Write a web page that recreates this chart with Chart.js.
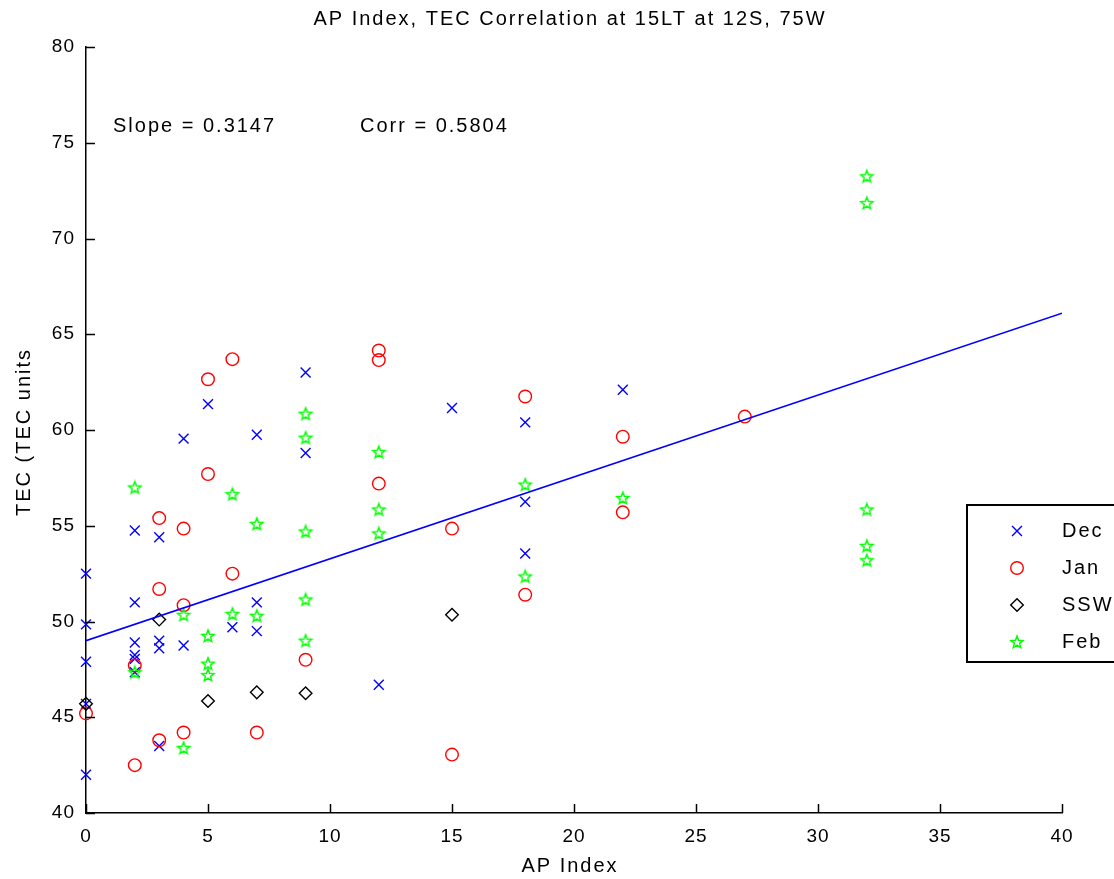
<!DOCTYPE html>
<html>
<head>
<meta charset="utf-8">
<title>AP Index, TEC Correlation</title>
<script src="https://cdn.jsdelivr.net/npm/chart.js@4.4.1/dist/chart.umd.min.js"></script>
<style>
  html, body { margin: 0; padding: 0; background: #fff; }
  canvas { display: block; }
</style>
</head>
<body>
<canvas id="apTecChart" width="1114" height="879"></canvas>
<script>
// AP index vs TEC, one pair of arrays per month group
const decAp  = [0, 0, 0, 0, 0, 2, 2, 2, 2, 2, 2, 3, 3, 3, 3, 4, 4, 5, 6, 7, 7, 7, 9, 9, 12, 15, 18, 18, 18, 22];
const decTec = [52.5, 49.85, 47.9, 45.7, 42.0, 54.75, 51.0, 48.9, 48.25, 48.05, 47.35, 54.4, 49.0, 48.6, 43.5,
                59.55, 48.75, 61.35, 49.7, 59.75, 51.0, 49.5, 63.0, 58.8, 46.7, 61.15, 60.4, 56.25, 53.55, 62.1];

const janAp  = [0, 2, 2, 3, 3, 3, 4, 4, 4, 5, 5, 6, 6, 7, 9, 12, 12, 12, 15, 15, 18, 18, 22, 22, 27];
const janTec = [45.2, 47.7, 42.5, 55.4, 51.7, 43.8, 54.85, 50.85, 44.2, 62.65, 57.7, 63.7, 52.5, 44.2, 48.0,
                64.15, 63.65, 57.2, 54.85, 43.05, 61.75, 51.4, 59.65, 55.7, 60.7];

const sswAp  = [0, 3, 5, 7, 9, 15];
const sswTec = [45.7, 50.1, 45.85, 46.3, 46.25, 50.35];

const febAp  = [2, 2, 4, 4, 5, 5, 5, 6, 6, 7, 7, 9, 9, 9, 9, 9, 12, 12, 12, 18, 18, 22, 32, 32, 32, 32, 32];
const febTec = [57.0, 47.35, 50.35, 43.4, 49.25, 47.8, 47.2, 56.65, 50.4, 55.1, 50.3, 60.85, 59.6, 54.7, 51.15, 49.0,
                58.85, 55.85, 54.6, 57.15, 52.35, 56.45, 73.25, 71.85, 55.85, 53.95, 53.2];

// least squares line, ends read at AP = 0 and AP = 40
const fitAp  = [0, 40];
const fitTec = [49.0, 66.1];

const xTicks = [0, 5, 10, 15, 20, 25, 30, 35, 40];
const yTicks = [40, 45, 50, 55, 60, 65, 70, 75, 80];

const seriesNames = ['Dec', 'Jan', 'SSW', 'Feb'];
const slopeText = 'Slope = 0.3147';
const corrText = 'Corr = 0.5804';

const FONT = "'Liberation Sans', Arial, sans-serif";

const zip = (xs, ys) => xs.map((x, i) => ({ x, y: ys[i] }));

// pentagram marker, Chart.js has no outlined five point star
function makeStar(color) {
  const c = document.createElement('canvas');
  c.width = 16;
  c.height = 16;
  const g = c.getContext('2d');
  g.strokeStyle = color;
  g.lineWidth = 1.4;
  g.beginPath();
  for (let i = 0; i < 10; i++) {
    const r = i % 2 === 0 ? 6.4 : 2.7;
    const a = -Math.PI / 2 + i * Math.PI / 5;
    const px = 8 + r * Math.cos(a);
    const py = 8.5 + r * Math.sin(a);
    if (i === 0) g.moveTo(px, py); else g.lineTo(px, py);
  }
  g.closePath();
  g.stroke();
  return c;
}
const starImg = makeStar('#00ff00');

const markers = [
  { pointStyle: 'crossRot', radius: 7, color: '#0000ff' },
  { pointStyle: 'circle', radius: 6.3, color: '#ff0000' },
  { pointStyle: 'rectRot', radius: 6.3, color: '#000000' },
  { pointStyle: starImg, radius: 6, color: '#00ff00' }
];

function scatterSet(label, data, m, order) {
  return {
    label,
    data,
    order,
    clip: false,
    showLine: false,
    pointStyle: m.pointStyle,
    pointRadius: m.radius,
    pointHoverRadius: m.radius,
    pointBorderColor: m.color,
    pointBackgroundColor: 'rgba(0,0,0,0)',
    pointBorderWidth: 1.4
  };
}

function drawText(ctx, text, x, y, align) {
  ctx.textAlign = align;
  ctx.textBaseline = 'middle';
  ctx.fillText(text, x, y);
}

// inward ticks, titles, annotations and the boxed legend
const decorPlugin = {
  id: 'decor',
  beforeDraw(chart) {
    chart.ctx.letterSpacing = '1px';
  },
  afterDraw(chart) {
    const { ctx, chartArea: area, scales: { x, y } } = chart;
    ctx.save();
    ctx.strokeStyle = '#000';
    ctx.lineWidth = 1.5;
    ctx.beginPath();
    xTicks.forEach(v => {
      const px = Math.round(x.getPixelForValue(v)) + 0.5;
      ctx.moveTo(px, area.bottom);
      ctx.lineTo(px, area.bottom - 9);
    });
    yTicks.forEach(v => {
      const py = Math.round(y.getPixelForValue(v)) + 0.5;
      ctx.moveTo(area.left, py);
      ctx.lineTo(area.left + 9, py);
    });
    ctx.stroke();

    ctx.fillStyle = '#000';
    ctx.letterSpacing = '2px';
    ctx.font = `20px ${FONT}`;
    drawText(ctx, 'AP Index, TEC Correlation at 15LT at 12S, 75W', 570, 19, 'center');
    drawText(ctx, slopeText, 113, 126, 'left');
    drawText(ctx, corrText, 360, 126, 'left');
    drawText(ctx, 'AP Index', 570, 866, 'center');

    ctx.save();
    ctx.translate(24, 432);
    ctx.rotate(-Math.PI / 2);
    drawText(ctx, 'TEC (TEC units', 0, 0, 'center');
    ctx.restore();

    // legend box runs past the right edge
    ctx.fillStyle = '#fff';
    ctx.fillRect(967, 505, 160, 157);
    ctx.strokeStyle = '#000';
    ctx.lineWidth = 2;
    ctx.strokeRect(967, 505, 160, 157);

    const rows = [531, 568, 605, 642];
    seriesNames.forEach((name, i) => {
      const m = markers[i];
      Chart.helpers.drawPoint(ctx, {
        pointStyle: m.pointStyle,
        radius: m.radius,
        rotation: 0,
        borderWidth: 1.4
      }, 1017, rows[i]);
      ctx.fillStyle = '#000';
      drawText(ctx, name, 1062, rows[i], 'left');
    });
    ctx.restore();
  }
};

// legend markers need stroke colour set before drawPoint
const origDrawPoint = Chart.helpers.drawPoint;
Chart.helpers.drawPoint = function (ctx, opts, px, py) {
  const idx = markers.findIndex(m => m.pointStyle === opts.pointStyle);
  ctx.save();
  if (idx >= 0) ctx.strokeStyle = markers[idx].color;
  ctx.lineWidth = opts.borderWidth;
  ctx.fillStyle = 'rgba(0,0,0,0)';
  origDrawPoint(ctx, opts, px, py);
  ctx.restore();
};

const ctx = document.getElementById('apTecChart');

new Chart(ctx, {
  type: 'scatter',
  data: {
    datasets: [
      scatterSet('Dec', zip(decAp, decTec), markers[0], 5),
      scatterSet('Jan', zip(janAp, janTec), markers[1], 4),
      scatterSet('SSW', zip(sswAp, sswTec), markers[2], 3),
      scatterSet('Feb', zip(febAp, febTec), markers[3], 2),
      {
        label: 'fit',
        data: zip(fitAp, fitTec),
        order: 1,
        showLine: true,
        borderColor: '#0000ff',
        borderWidth: 1.6,
        pointRadius: 0,
        pointHoverRadius: 0
      }
    ]
  },
  options: {
    responsive: false,
    animation: false,
    events: [],
    layout: { padding: { top: 47, right: 52, left: 0, bottom: 0 } },
    plugins: {
      legend: { display: false },
      tooltip: { enabled: false },
      title: { display: false }
    },
    scales: {
      x: {
        type: 'linear',
        min: 0,
        max: 40,
        afterFit: s => { s.height = 66; },
        afterBuildTicks: s => { s.ticks = xTicks.map(v => ({ value: v })); },
        grid: { display: false, drawTicks: false },
        border: { display: true, color: '#000', width: 1.5 },
        ticks: { color: '#000', padding: 12, maxRotation: 0, font: { family: FONT, size: 19 } }
      },
      y: {
        type: 'linear',
        min: 40,
        max: 80,
        afterFit: s => { s.width = 86; },
        afterBuildTicks: s => { s.ticks = yTicks.map(v => ({ value: v })); },
        grid: { display: false, drawTicks: false },
        border: { display: true, color: '#000', width: 1.5 },
        ticks: { color: '#000', padding: 11, font: { family: FONT, size: 19 } }
      }
    }
  },
  plugins: [decorPlugin]
});
</script>
</body>
</html>
